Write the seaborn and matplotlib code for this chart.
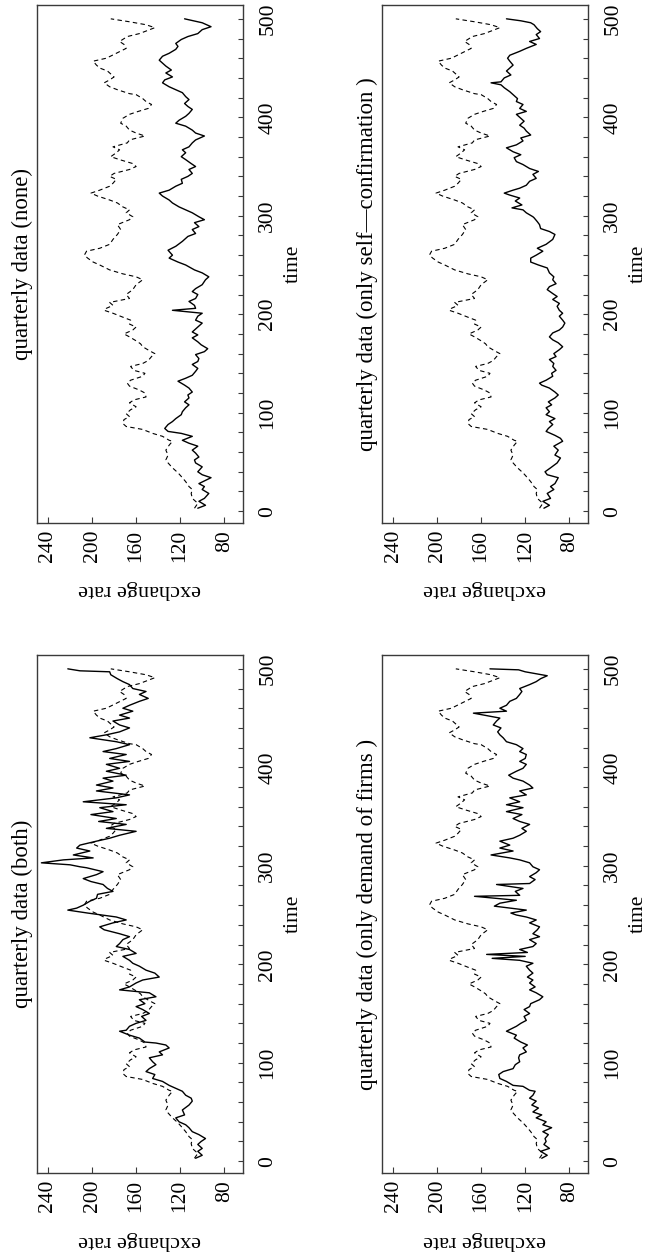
import matplotlib
matplotlib.use("Agg")
import matplotlib.pyplot as plt
import seaborn as sns
from matplotlib.ticker import MultipleLocator

# Actual (observed) exchange rate, drawn dashed in every panel
t_actual = [3, 8, 13, 18, 22, 25, 30, 34, 39, 44, 49, 52, 57, 62, 67, 71, 72, 76, 79, 83,
            86, 89, 93, 96, 99, 103, 106, 110, 113, 116, 120, 123, 127, 130, 133, 137, 140,
            143, 147, 150, 153, 157, 160, 163, 167, 170, 173, 177, 180, 184, 187, 190, 194,
            197, 201, 204, 206, 209, 212, 216, 220, 225, 230, 235, 238, 241, 245, 250, 253,
            257, 260, 264, 267, 271, 276, 281, 286, 291, 296, 299, 303, 306, 309, 313, 316,
            320, 323, 326, 330, 333, 337, 340, 343, 347, 350, 353, 357, 360, 364, 367, 370,
            374, 377, 381, 384, 387, 391, 394, 399, 403, 406, 409, 413, 416, 419, 423, 424,
            428, 431, 435, 438, 441, 447, 450, 453, 457, 460, 465, 470, 474, 477, 482, 485,
            491, 494, 497, 500]
fx_actual = [107, 104, 109, 110, 109, 112, 115, 118, 122, 127, 131, 133, 131, 133, 130, 127,
             130, 136, 145, 154, 169, 172, 171, 166, 169, 165, 160, 166, 162, 151, 152, 157,
             166, 168, 165, 154, 152, 162, 165, 154, 149, 146, 143, 148, 154, 156, 160, 166,
             171, 163, 160, 166, 165, 172, 181, 189, 187, 181, 184, 166, 169, 163, 160, 154,
             160, 172, 184, 193, 199, 204, 207, 205, 193, 184, 181, 177, 174, 177, 166, 163,
             169, 166, 172, 177, 184, 195, 201, 193, 184, 181, 178, 184, 180, 166, 160, 163,
             175, 183, 178, 175, 181, 168, 166, 152, 160, 166, 169, 174, 172, 166, 158, 149,
             146, 151, 154, 160, 166, 177, 184, 189, 184, 180, 186, 193, 196, 199, 187, 178,
             169, 171, 175, 168, 157, 143, 151, 166, 183]

# Simulated series: speculators using both effects
t_both = [3, 6, 10, 13, 17, 20, 23, 27, 30, 34, 37, 40, 44, 47, 52, 57, 61, 64, 67, 71, 74,
          77, 81, 84, 88, 91, 94, 98, 101, 105, 108, 111, 115, 118, 120, 121, 125, 128, 132,
          133, 137, 140, 143, 147, 150, 154, 157, 160, 164, 167, 171, 174, 177, 181, 184,
          187, 191, 194, 198, 201, 204, 208, 211, 215, 218, 221, 225, 228, 231, 235, 238,
          242, 245, 248, 252, 255, 257, 260, 264, 267, 271, 274, 277, 281, 284, 287, 291,
          294, 298, 299, 301, 303, 306, 308, 311, 315, 318, 321, 325, 328, 331, 335, 338,
          342, 345, 348, 352, 355, 359, 362, 365, 369, 372, 376, 379, 382, 386, 389, 392,
          396, 399, 403, 406, 409, 413, 416, 419, 423, 426, 430, 433, 436, 440, 443, 447,
          450, 453, 457, 460, 463, 467, 470, 474, 477, 480, 484, 487, 490, 494, 497, 498, 500]
fx_both = [106, 100, 104, 100, 104, 101, 97, 103, 109, 112, 115, 121, 124, 116, 118, 112,
           109, 110, 115, 118, 124, 130, 136, 145, 143, 151, 148, 142, 145, 148, 136, 139,
           130, 133, 142, 152, 157, 166, 175, 169, 166, 160, 151, 155, 148, 154, 160, 152,
           157, 142, 148, 175, 166, 160, 154, 139, 143, 151, 157, 163, 166, 172, 160, 166,
           178, 175, 172, 166, 175, 189, 193, 181, 169, 178, 204, 222, 214, 208, 202, 196,
           195, 181, 186, 190, 201, 208, 196, 190, 205, 211, 220, 246, 226, 199, 217, 202,
           214, 211, 196, 184, 175, 160, 187, 169, 194, 178, 201, 181, 193, 169, 208, 178,
           166, 196, 181, 196, 181, 190, 169, 187, 175, 187, 166, 184, 169, 190, 178, 166,
           178, 202, 187, 175, 166, 175, 181, 166, 175, 163, 172, 166, 157, 149, 157, 151,
           163, 166, 172, 177, 183, 184, 211, 222]

# Simulated series: neither effect
t_none = [3, 6, 10, 13, 18, 22, 25, 28, 34, 37, 40, 45, 49, 52, 55, 59, 62, 66, 69, 72, 76,
          79, 81, 84, 88, 91, 94, 98, 101, 105, 108, 111, 115, 118, 121, 125, 128, 132, 135,
          138, 142, 145, 149, 152, 155, 159, 162, 165, 169, 172, 176, 179, 182, 187, 191,
          194, 198, 201, 204, 206, 209, 213, 216, 220, 223, 226, 230, 235, 238, 242, 245,
          250, 253, 257, 260, 265, 269, 274, 279, 282, 286, 289, 293, 296, 299, 303, 306,
          309, 313, 316, 320, 323, 326, 330, 333, 337, 340, 343, 347, 350, 353, 357, 360,
          364, 367, 370, 374, 377, 381, 384, 387, 391, 394, 397, 401, 404, 408, 411, 414,
          418, 421, 425, 428, 431, 435, 438, 441, 445, 448, 452, 455, 458, 462, 465, 469,
          472, 475, 479, 482, 485, 489, 492, 496, 499, 500]
fx_none = [104, 97, 103, 98, 94, 100, 98, 103, 92, 100, 104, 100, 106, 107, 103, 106, 109,
           104, 112, 118, 109, 119, 131, 134, 131, 127, 124, 119, 118, 115, 112, 116, 112,
           113, 109, 112, 116, 122, 115, 109, 106, 104, 109, 104, 103, 106, 98, 95, 101, 104,
           109, 104, 109, 104, 100, 106, 104, 100, 127, 106, 107, 112, 106, 104, 109, 106,
           100, 97, 94, 100, 107, 115, 122, 130, 127, 131, 124, 118, 113, 106, 109, 103, 107,
           98, 103, 109, 115, 121, 127, 130, 136, 139, 130, 124, 118, 119, 113, 109, 112, 106,
           110, 115, 119, 115, 118, 112, 109, 106, 98, 106, 109, 115, 124, 121, 115, 112, 109,
           113, 116, 112, 115, 118, 124, 130, 136, 134, 127, 133, 128, 133, 136, 139, 136, 130,
           124, 122, 124, 119, 113, 104, 100, 92, 100, 112, 116]

# Simulated series: only the demand of firms
t_firms = [3, 6, 10, 13, 17, 20, 23, 27, 30, 34, 37, 40, 44, 47, 50, 54, 57, 61, 64, 67, 71,
           72, 76, 77, 81, 84, 88, 91, 94, 98, 101, 105, 108, 111, 115, 118, 121, 125, 128,
           132, 137, 140, 143, 147, 150, 154, 157, 160, 164, 167, 171, 174, 177, 181, 184,
           187, 191, 194, 198, 201, 204, 206, 208, 210, 212, 215, 218, 221, 225, 228, 231,
           235, 238, 242, 245, 248, 250, 252, 255, 259, 262, 265, 269, 270, 274, 277, 281,
           282, 286, 289, 293, 296, 299, 303, 306, 308, 311, 315, 318, 321, 325, 328, 331,
           335, 338, 342, 345, 348, 352, 355, 359, 362, 365, 369, 372, 376, 379, 382, 386,
           389, 392, 396, 399, 403, 406, 409, 413, 416, 419, 423, 426, 430, 433, 436, 440,
           443, 447, 450, 455, 457, 460, 463, 467, 470, 474, 477, 480, 484, 487, 490, 493,
           497, 499, 500]
fx_firms = [105, 100, 106, 98, 103, 101, 102, 99, 104, 96, 104, 101, 110, 105, 113, 108, 114,
            110, 116, 113, 111, 116, 122, 131, 137, 143, 144, 140, 131, 129, 125, 126, 125,
            119, 122, 118, 124, 130, 128, 137, 128, 124, 119, 121, 116, 121, 116, 115, 107,
            104, 110, 116, 111, 116, 113, 118, 113, 116, 119, 113, 125, 150, 120, 155, 118,
            125, 113, 110, 116, 107, 113, 109, 107, 116, 110, 119, 128, 133, 119, 148, 143,
            128, 166, 125, 129, 122, 146, 116, 111, 116, 110, 107, 113, 116, 125, 134, 151,
            131, 143, 134, 143, 131, 125, 119, 123, 116, 125, 131, 123, 137, 122, 137, 125,
            134, 119, 125, 113, 116, 122, 131, 135, 128, 122, 119, 125, 120, 119, 125, 122,
            128, 137, 140, 143, 145, 142, 149, 146, 143, 167, 137, 143, 137, 134, 128, 125,
            123, 125, 116, 110, 106, 100, 120, 126, 152]

# Simulated series: only self-confirmation
t_self = [3, 6, 10, 13, 18, 22, 25, 28, 34, 37, 40, 44, 49, 54, 57, 62, 66, 71, 74, 77, 81,
          84, 88, 91, 94, 98, 101, 105, 108, 111, 115, 118, 121, 125, 128, 130, 133, 137, 140,
          143, 147, 150, 154, 157, 160, 164, 167, 171, 174, 177, 181, 184, 187, 191, 194, 198,
          201, 204, 208, 211, 215, 218, 221, 225, 228, 231, 235, 238, 242, 247, 250, 253, 257,
          260, 264, 267, 271, 276, 281, 284, 287, 291, 294, 298, 299, 303, 306, 308, 311, 315,
          318, 321, 323, 326, 328, 331, 335, 338, 342, 345, 348, 352, 355, 359, 362, 365, 369,
          372, 376, 379, 382, 386, 389, 392, 396, 399, 403, 406, 409, 413, 416, 419, 423, 426,
          430, 433, 435, 436, 440, 443, 447, 450, 453, 457, 460, 463, 467, 470, 474, 477, 480,
          484, 487, 490, 494, 496, 498, 500]
fx_self = [103, 98, 104, 97, 100, 94, 97, 93, 90, 100, 102, 97, 91, 88, 93, 90, 94, 86, 88,
           93, 101, 99, 95, 98, 93, 101, 98, 101, 96, 99, 93, 90, 93, 98, 105, 107, 101, 95,
           96, 92, 95, 94, 98, 92, 94, 89, 86, 90, 95, 98, 95, 89, 86, 84, 86, 89, 86, 89, 91,
           89, 95, 91, 95, 100, 98, 92, 95, 94, 98, 100, 108, 115, 115, 110, 104, 109, 101, 95,
           93, 98, 106, 107, 109, 112, 113, 119, 122, 132, 123, 129, 125, 134, 139, 131, 125,
           119, 116, 110, 113, 108, 116, 122, 128, 130, 124, 131, 137, 128, 122, 124, 115, 119,
           121, 125, 121, 124, 128, 119, 125, 122, 128, 127, 131, 134, 139, 142, 151, 142, 139,
           133, 137, 134, 131, 134, 136, 134, 125, 119, 110, 116, 107, 110, 106, 109, 112, 115,
           124, 137]

rate_ticks = [80, 120, 160, 200, 240]
time_ticks = [0, 100, 200, 300, 400, 500]

panels = [
    # (axes rectangle in figure fraction, title, simulated time, simulated rate)
    ([0.0568, 0.5846, 0.3164, 0.4114], "quarterly data (none)", t_none, fx_none),
    ([0.5868, 0.5846, 0.3164, 0.4114], "quarterly data (only self\u2014confirmation )", t_self, fx_self),
    ([0.0568, 0.0683, 0.3164, 0.4114], "quarterly data (both)", t_both, fx_both),
    ([0.5868, 0.0683, 0.3164, 0.4114], "quarterly data (only demand of firms )", t_firms, fx_firms),
]

sns.set_theme(style="white")
plt.rcParams["font.family"] = ["Liberation Serif", "DejaVu Serif"]
plt.rcParams["axes.edgecolor"] = "#3a3a3a"
plt.rcParams["axes.linewidth"] = 1.0

fig = plt.figure(figsize=(6.51, 12.59), dpi=100)

for rect, title, t_sim, fx_sim in panels:
    ax = fig.add_axes(rect)
    sns.lineplot(x=fx_actual, y=t_actual, ax=ax, sort=False, estimator=None,
                 color="black", linewidth=0.8, linestyle=(0, (4, 3)))
    sns.lineplot(x=fx_sim, y=t_sim, ax=ax, sort=False, estimator=None,
                 color="black", linewidth=1.0)

    # rate on the horizontal axis, high values to the left
    ax.set_xlim(250, 63)
    ax.set_ylim(-12, 514)
    ax.set_xticks(rate_ticks)
    ax.set_xticklabels([str(v) for v in rate_ticks])
    ax.set_yticks(time_ticks)
    ax.set_yticklabels([str(v) for v in time_ticks])
    ax.yaxis.set_minor_locator(MultipleLocator(20))

    ax.tick_params(axis="x", which="both", bottom=True, top=False, direction="in",
                   length=4, width=0.8, color="#3a3a3a", labelsize=15.5,
                   labelrotation=90, pad=5, labelcolor="black")
    ax.tick_params(axis="y", which="both", left=False, right=True, labelleft=False,
                   labelright=True, direction="in", length=3.5, width=0.8,
                   color="#3a3a3a", labelsize=15.5, labelrotation=90, pad=11,
                   labelcolor="black")
    for lab in ax.get_yticklabels():
        lab.set_verticalalignment("center")

    ax.yaxis.set_label_position("right")
    ax.set_ylabel("time", rotation=90, fontsize=15.5, labelpad=4.5, color="black")
    ax.set_xlabel("exchange rate", rotation=180, fontsize=16, labelpad=13,
                  color="black")
    ax.text(-0.07, 0.5, title, transform=ax.transAxes, rotation=90,
            ha="center", va="center", fontsize=16.5, color="black")

fig.savefig("out.png", dpi=100)
